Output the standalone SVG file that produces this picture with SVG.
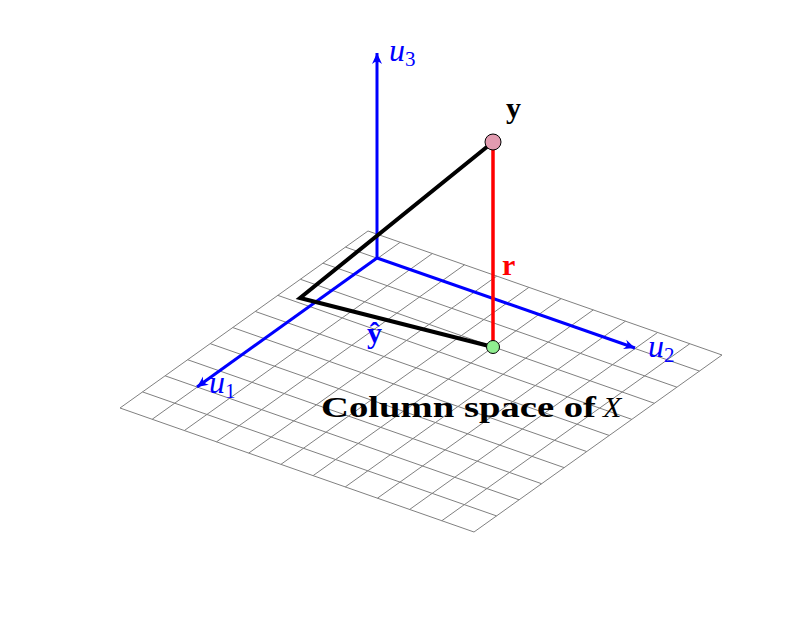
<svg xmlns="http://www.w3.org/2000/svg" width="810" height="620" viewBox="0 0 810 620">
<style>
.grid{fill:none;stroke:#808080;stroke-width:1}
.axis{fill:none;stroke:#0000ff;stroke-width:3}
.lab{font-family:"Liberation Serif","DejaVu Serif",serif;font-size:30px}
.ul{fill:#0000ff;font-style:italic;font-size:32px}
.bold{font-weight:bold}
</style>
<defs>
<marker id="arr" markerUnits="userSpaceOnUse" markerWidth="16" markerHeight="14" viewBox="-12 -7 14 14" refX="0" refY="0" orient="auto">
<path d="M0,0 L-11,-5 Q-6,0 -11,5 Z" fill="#0000ff"/>
</marker>
</defs>
<rect width="810" height="620" fill="#ffffff"/>
<g id="plane">
<path class="grid" vector-effect="non-scaling-stroke" transform="matrix(32.182,11.273,22.545,-16.091,120,408)" d="M0,0H11M0,1H11M0,2H11M0,3H11M0,4H11M0,5H11M0,6H11M0,7H11M0,8H11M0,9H11M0,10H11M0,11H11M0,0V11M1,0V11M2,0V11M3,0V11M4,0V11M5,0V11M6,0V11M7,0V11M8,0V11M9,0V11M10,0V11M11,0V11"/>
</g>
<g id="connectors">
<line id="u1" class="axis" x1="377" y1="258" x2="197" y2="387" marker-end="url(#arr)"/>
<line id="u2" class="axis" x1="377" y1="258" x2="635" y2="348" marker-end="url(#arr)"/>
<line id="u3" class="axis" x1="377" y1="258" x2="377" y2="53" marker-end="url(#arr)"/>
<polyline id="proj" points="493,142 300,298 493,347" fill="none" stroke="#000000" stroke-width="4" stroke-linejoin="miter"/>
<line id="resid" x1="493" y1="142" x2="493" y2="347" stroke="#ff0000" stroke-width="3.5"/>
</g>
<g id="y-point">
<circle cx="493" cy="142" r="8" fill="#e29bb0" stroke="#000000" stroke-width="1"/>
</g>
<g id="yhat-point">
<circle cx="493" cy="347" r="6.5" fill="#90ee90" stroke="#000000" stroke-width="1"/>
</g>
<g id="labels">
<text class="lab ul" x="209" y="393">u<tspan font-size="21" dy="5" font-style="normal">1</tspan></text>
<text class="lab ul" x="648" y="357">u<tspan font-size="21" dy="5" font-style="normal">2</tspan></text>
<text class="lab ul" x="389" y="61">u<tspan font-size="21" dy="5" font-style="normal">3</tspan></text>
<text class="lab bold" x="506" y="118" fill="#000000">y</text>
<text class="lab bold" x="367" y="343" fill="#0000ff">ŷ</text>
<text class="lab bold" x="502" y="275" fill="#ff0000">r</text>
<text class="lab bold" x="321" y="417" fill="#000000" textLength="275" lengthAdjust="spacingAndGlyphs">Column space of</text>
<text class="lab" x="603" y="417" fill="#000000" font-style="italic">X</text>
</g>
</svg>
